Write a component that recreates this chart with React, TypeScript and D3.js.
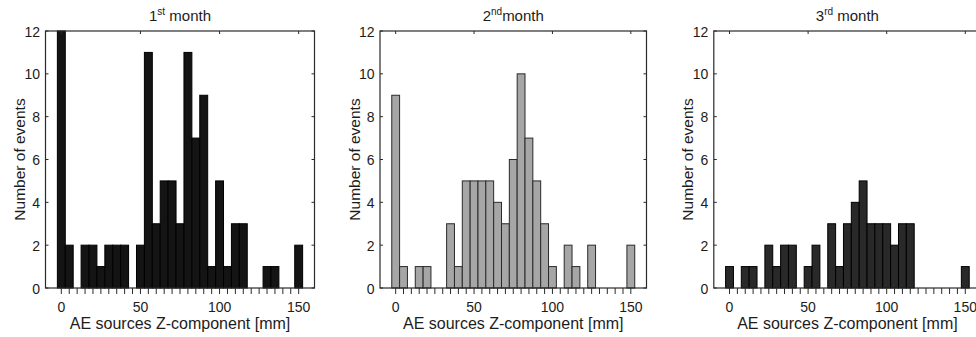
import React from "react";
import * as d3 from "d3";

const binCenters = d3.range(0, 155, 5);
const counts1 = [12, 2, 0, 2, 2, 1, 2, 2, 2, 0, 2, 11, 3, 5, 5, 3, 11, 7, 9, 1, 5, 1, 3, 3, 0, 0, 1, 1, 0, 0, 2];
const counts2 = [9, 1, 0, 1, 1, 0, 0, 3, 1, 5, 5, 5, 5, 4, 3, 6, 10, 7, 5, 3, 1, 0, 2, 1, 0, 2, 0, 0, 0, 0, 2];
const counts3 = [1, 0, 1, 1, 0, 2, 1, 2, 2, 0, 1, 2, 0, 3, 1, 3, 4, 5, 3, 3, 3, 2, 3, 3, 0, 0, 0, 0, 0, 0, 1];
const titleNums = ["1", "2", "3"];
const titleSups = ["st", "nd", "rd"];
const titleSpaces = [" ", "", " "];
const xTicks = [0, 50, 100, 150];
const yTicks = [0, 2, 4, 6, 8, 10, 12];
const xLabel = "AE sources Z-component [mm]";
const yLabel = "Number of events";

const panels = [
  { counts: counts1, left: 45.5, right: 314.5, fill: "#141414", stroke: "#000" },
  { counts: counts2, left: 380, right: 646.5, fill: "#a6a6a6", stroke: "#2a2a2a" },
  { counts: counts3, left: 713.8, right: 981, fill: "#292929", stroke: "#000" },
];

const TOP = 31;
const BOTTOM = 288;
const FONT = "'Liberation Sans', Arial, Helvetica, sans-serif";
const TXT = "#1c1c1c";
const AX = "#2a2a2a";

function Panel({ p, i }: { p: typeof panels[number]; i: number }) {
  const x = d3.scaleLinear().domain([-10, 160]).range([p.left, p.right]);
  const y = d3.scaleLinear().domain([0, 12]).range([BOTTOM, TOP]);
  const bw = 5;
  const cx = (p.left + p.right) / 2;
  return (
    <g>
      {binCenters.map((c, k) =>
        p.counts[k] > 0 ? (
          <rect
            key={"b" + k}
            x={x(c - bw / 2)}
            y={y(p.counts[k])}
            width={x(c + bw / 2) - x(c - bw / 2)}
            height={y(0) - y(p.counts[k])}
            fill={p.fill}
            stroke={p.stroke}
            strokeWidth={1}
          />
        ) : null
      )}
      <rect x={p.left} y={TOP} width={p.right - p.left} height={BOTTOM - TOP} fill="none" stroke={AX} strokeWidth={1.2} />
      {binCenters.map((c, k) => (
        <line key={"bt" + k} x1={x(c)} x2={x(c)} y1={BOTTOM} y2={BOTTOM + 6} stroke={AX} strokeWidth={1} />
      ))}
      {xTicks.map((t) => (
        <line key={"xt" + t} x1={x(t)} x2={x(t)} y1={TOP} y2={TOP + 3} stroke={AX} strokeWidth={1} />
      ))}
      {xTicks.map((t) => (
        <text key={"xl" + t} x={x(t)} y={312} textAnchor="middle" fontFamily={FONT} fontSize={14} fill={TXT}>
          {t}
        </text>
      ))}
      {yTicks.map((t) => (
        <g key={"yt" + t}>
          <line x1={p.left} x2={p.left + 3} y1={y(t)} y2={y(t)} stroke={AX} strokeWidth={1} />
          <line x1={p.right} x2={p.right - 3} y1={y(t)} y2={y(t)} stroke={AX} strokeWidth={1} />
          <text x={p.left - 5.5} y={y(t) + 5.5} textAnchor="end" fontFamily={FONT} fontSize={14} fill={TXT}>
            {t}
          </text>
        </g>
      ))}
      <text x={cx} y={329} textAnchor="middle" fontFamily={FONT} fontSize={16} fill={TXT}>
        {xLabel}
      </text>
      <text
        transform={`translate(${p.left - 20.5},${(TOP + BOTTOM) / 2}) rotate(-90)`}
        textAnchor="middle"
        fontFamily={FONT}
        fontSize={15.5}
        fill={TXT}
      >
        {yLabel}
      </text>
      <text x={cx} y={20.5} textAnchor="middle" fontFamily={FONT} fontSize={15} fill={TXT}>
        {titleNums[i]}
        <tspan fontSize={10} dy={-6}>{titleSups[i]}</tspan>
        <tspan dy={6}>{titleSpaces[i] + "month"}</tspan>
      </text>
    </g>
  );
}

export default function App() {
  return (
    <svg
      width={976}
      height={337}
      style={{ position: "absolute", left: 0, top: 0, background: "#fff" }}
    >
      <rect width={976} height={337} fill="#fff" />
      {panels.map((p, i) => (
        <Panel key={i} p={p} i={i} />
      ))}
    </svg>
  );
}
